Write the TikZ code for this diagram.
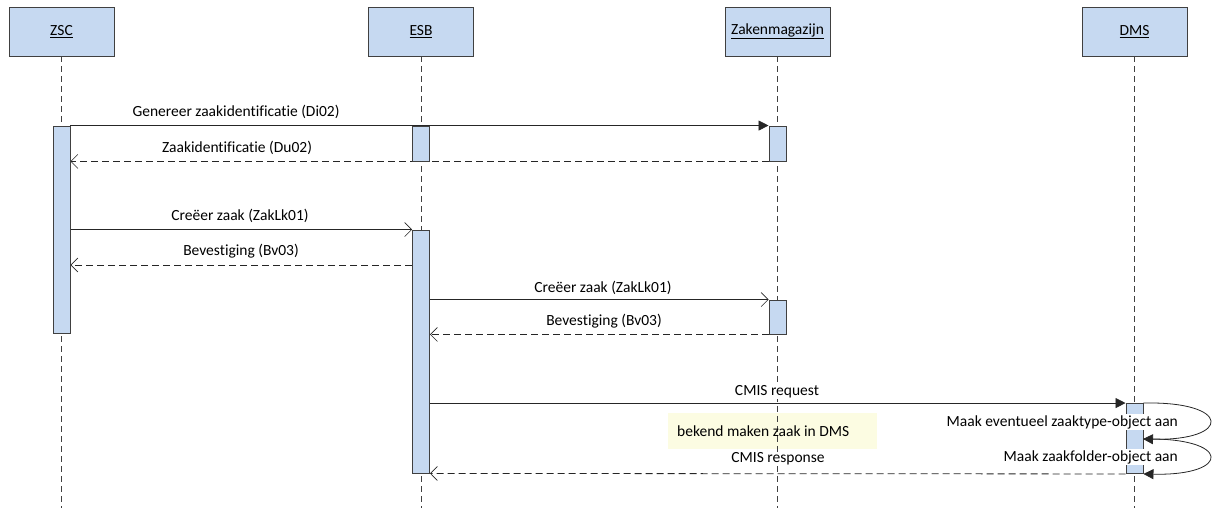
\documentclass[tikz,border=0pt]{standalone}
\usepackage{fontspec}
\setmainfont{Carlito}[Ligatures=NoCommon]
\usetikzlibrary{arrows.meta}
\definecolor{boxblue}{RGB}{198,217,241}
\definecolor{boxline}{RGB}{64,64,64}
\definecolor{noteyellow}{RGB}{252,252,226}
\tikzset{
  head/.style={draw=boxline, fill=boxblue, line width=0.9pt, minimum width=105pt, minimum height=49pt, inner sep=0pt, font=\fontsize{15.5}{18}\selectfont},
  life/.style={draw=boxline, line width=0.8pt, dash pattern=on 6pt off 4pt},
  actbar/.style={draw=boxline, fill=boxblue, line width=0.9pt, minimum width=17pt, inner sep=0pt},
  msg/.style={draw=black!85, line width=0.8pt},
  reply/.style={draw=black!85, line width=0.8pt, dash pattern=on 7pt off 4pt},
  filledtip/.style={-{Triangle[length=10pt,width=10pt]}},
  opentip/.style={-{Straight Barb[length=7pt,width=14pt,line width=0.6pt]}},
  lbl/.style={fill=white, inner sep=1pt, font=\fontsize{15.5}{18}\selectfont},
  notebox/.style={fill=noteyellow, draw=none, minimum width=209pt, minimum height=36pt, inner sep=0pt}
}
\begin{document}
\begin{tikzpicture}[x=1pt,y=-1pt]
\useasboundingbox (0,0) rectangle (1212,513);
% note
\node[notebox] (note) at (772.5,431) {};
% heads
\node[head] (zsc) at (61.5,31.5) {\underline{ZSC}};
\node[head] (esb) at (421,31.5) {\underline{ESB}};
\node[head] (zak) at (777.5,31.5) {\underline{Zakenmagazijn}};
\node[head] (dms) at (1134.5,31.5) {\underline{DMS}};
% lifeline ends
\coordinate (zscend) at (61.5,508);
\coordinate (esbend) at (421,508);
\coordinate (zakend) at (777.5,508);
\coordinate (dmsend) at (1134.5,508);
\draw[life] (zsc.south) -- (zscend);
\draw[life] (esb.south) -- (esbend);
\draw[life] (zak.south) -- (zakend);
\draw[life] (dms.south) -- (dmsend);
% note text
\node[anchor=west, inner sep=0pt, font=\fontsize{15.5}{18}\selectfont] (notetext) at (677,431) {bekend maken zaak in DMS};
% activation bars (positions)
\node[actbar, minimum height=207pt] (b1) at (61.5,229.5) {};
\node[actbar, minimum height=35pt] (e1) at (421,143.5) {};
\node[actbar, minimum height=35pt] (z1) at (777.5,143.5) {};
\node[actbar, minimum height=243pt] (b3) at (421,351.5) {};
\node[actbar, minimum height=34pt] (z2) at (777.5,317) {};
\node[actbar, minimum height=70pt] (d1) at (1134.5,438.5) {};
% messages
\draw[msg, filledtip] (b1.north east) -- (z1.north west);
\draw[reply, opentip] (z1.south west) -- (b1.east |- z1.south west);
\draw[msg, opentip] (b1.east |- b3.north west) -- (b3.north west);
\coordinate (r4) at (421,265);
\draw[reply, opentip] (b3.west |- r4) -- (b1.east |- r4);
\draw[msg, opentip] (b3.east |- z2.north west) -- (z2.north west);
\draw[reply, opentip] (z2.south west) -- (b3.east |- z2.south west);
\draw[msg, filledtip] (b3.east |- d1.north west) -- (d1.north west);
\draw[reply, opentip] (d1.south west) -- (b3.south east);
% redraw bars on top
\node[actbar, minimum height=207pt] at (b1) {};
\node[actbar, minimum height=35pt] at (e1) {};
\node[actbar, minimum height=35pt] at (z1) {};
\node[actbar, minimum height=243pt] at (b3) {};
\node[actbar, minimum height=34pt] at (z2) {};
\node[actbar, minimum height=70pt] at (d1) {};
% self messages
\coordinate (s1) at (1143,439);
\draw[msg, filledtip] (d1.north east) .. controls (1232,401) and (1232,441) .. (s1);
\draw[msg, filledtip] (s1) .. controls (1232,437) and (1232,476) .. (d1.south east);
% labels
\node[lbl] (l1) at (236,112) {Genereer zaakidentificatie (Di02)};
\node[lbl] (l2) at (237,148) {Zaakidentificatie (Du02)};
\node[lbl] (l3) at (240,216) {Creëer zaak (ZakLk01)};
\node[lbl] (l4) at (241,251) {Bevestiging (Bv03)};
\node[lbl] (l5) at (603,288) {Creëer zaak (ZakLk01)};
\node[lbl] (l6) at (604,321) {Bevestiging (Bv03)};
\node[lbl] (l7) at (777,392) {CMIS request};
\node[lbl] (l8) at (778,459) {CMIS response};
\node[lbl, anchor=east] (l9) at (1179,422) {Maak eventueel zaaktype-object aan};
\node[lbl, anchor=east] (l10) at (1179,457) {Maak zaakfolder-object aan};
\end{tikzpicture}
\end{document}
